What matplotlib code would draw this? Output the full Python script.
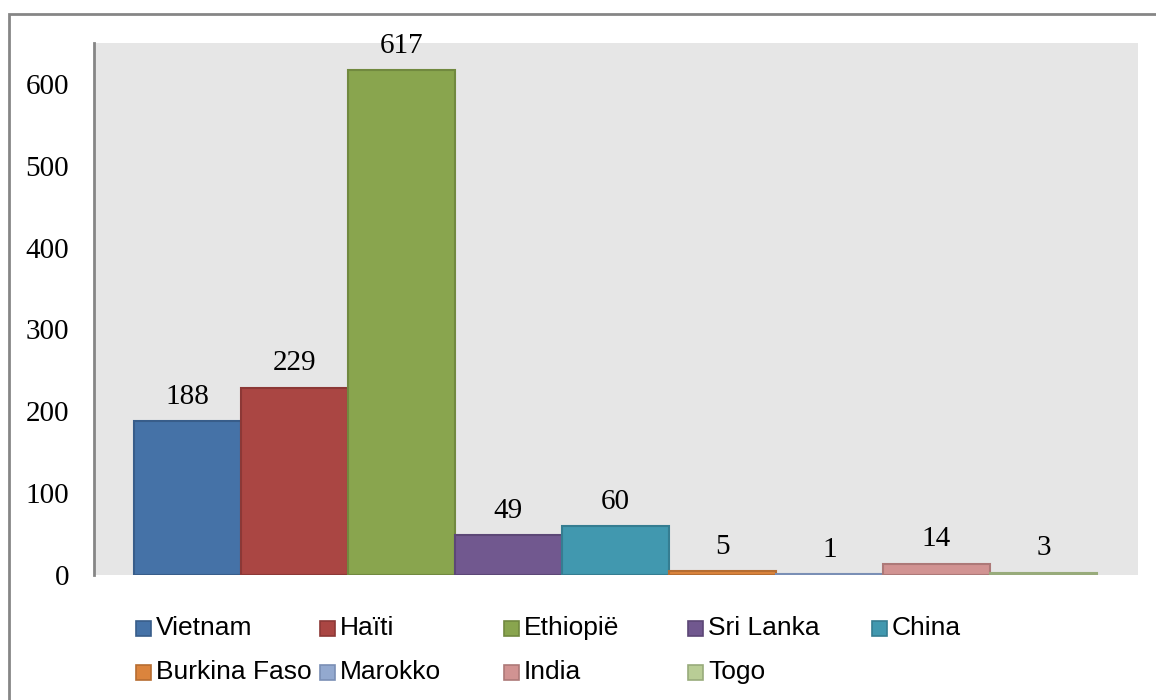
import matplotlib.pyplot as plt
from matplotlib.patches import Rectangle

countries = ["Vietnam", "Haïti", "Ethiopië", "Sri Lanka", "China",
             "Burkina Faso", "Marokko", "India", "Togo"]
values = [188, 229, 617, 49, 60, 5, 1, 14, 3]
colors = ["#4572A7", "#AA4643", "#89A54E", "#71588F", "#4198AF",
          "#DB843D", "#93A9CF", "#D19392", "#B9CD96"]
edges = ["#385D8A", "#8C3836", "#71893F", "#5C4776", "#357D91",
         "#B66D31", "#7A8FB5", "#AD7978", "#98AB7B"]

W, H = 1156, 700
fig = plt.figure(figsize=(W / 100, H / 100), dpi=100)
ax = fig.add_axes([94 / W, 1 - 575 / H, (1138 - 94) / W, (575 - 43) / H])
ax.set_facecolor("#E6E6E6")

x = list(range(len(values)))
ax.bar(x, values, width=1.0, color=colors, edgecolor=edges, linewidth=1.5)
for xi, v in zip(x, values):
    ax.annotate(str(v), (xi, v), xytext=(0, 8), textcoords="offset points",
                ha="center", va="bottom", fontsize=21, family="Liberation Serif")

ax.set_xlim(-0.5 - 40 / 107, 8.5 + 41 / 107)
ax.set_ylim(0, 650)
ax.set_yticks(range(0, 700, 100))
ax.set_xticks([])
ax.tick_params(axis="y", length=0, pad=18, labelsize=21)
for lab in ax.get_yticklabels():
    lab.set_family("Liberation Serif")
for s in ["top", "right", "bottom"]:
    ax.spines[s].set_visible(False)
ax.spines["left"].set_color("#868686")
ax.spines["left"].set_linewidth(2)

# legend, laid out in a fixed grid like the original
for i, name in enumerate(countries):
    row, col = divmod(i, 5)
    lx = 136 + col * 184
    ly = 628 + row * 44
    fig.add_artist(Rectangle((lx / W, 1 - (ly + 7.5) / H), 15 / W, 15 / H,
                             transform=fig.transFigure, facecolor=colors[i],
                             edgecolor=edges[i], linewidth=1.2))
    fig.text((lx + 20) / W, 1 - ly / H, name, fontsize=19,
             family="Liberation Sans", va="center", ha="left")

# outer chart border
fig.add_artist(Rectangle((9 / W, -0.01), 1.02, 1 - 14 / H + 0.01,
                         transform=fig.transFigure, fill=False,
                         edgecolor="#868686", linewidth=2))

fig.savefig("out.png", dpi=100)
